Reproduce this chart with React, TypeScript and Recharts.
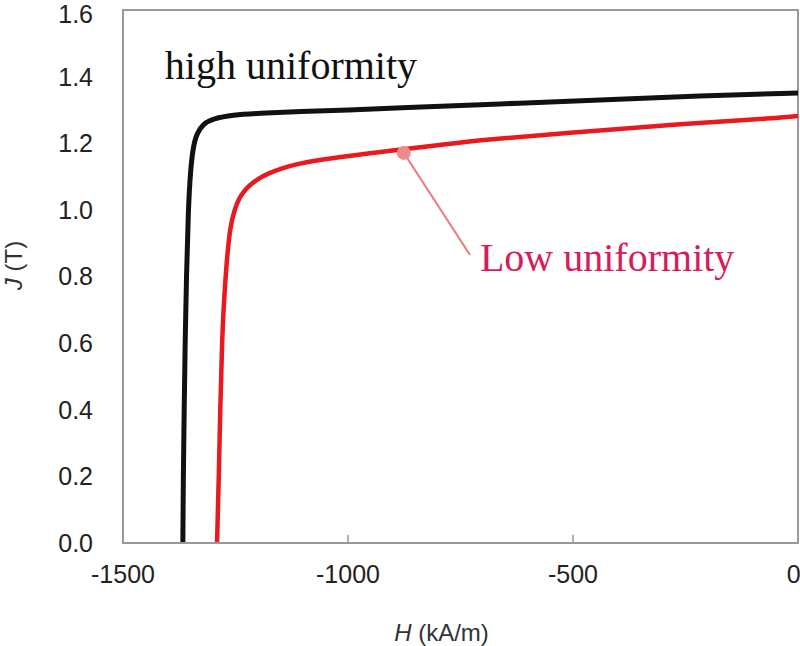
import { LineChart, Line, XAxis, YAxis, ReferenceArea, ReferenceLine, ReferenceDot } from 'recharts';

// H (kA/m) vs J (T)
const highH = [-1367, -1366, -1364, -1362, -1359, -1355, -1350, -1344, -1336, -1322, -1300, -1256, -1200, -1107, -1000, -884, -662, -440, -218, 0];
const highJ = [0, 0.2, 0.4, 0.6, 0.8, 1.0, 1.12, 1.19, 1.23, 1.258, 1.274, 1.285, 1.29, 1.295, 1.3, 1.306, 1.318, 1.33, 1.342, 1.351];

const lowH = [-1291, -1287, -1284, -1280, -1276, -1270, -1262, -1252, -1244, -1232, -1218, -1200, -1180, -1150, -1107, -1050, -929, -800, -707, -484, -262, -40, 0];
const lowJ = [0, 0.2, 0.4, 0.6, 0.72, 0.84, 0.95, 1.0, 1.03, 1.055, 1.075, 1.093, 1.108, 1.124, 1.14, 1.153, 1.174, 1.194, 1.21, 1.234, 1.258, 1.276, 1.282];

const xTicks = [-1500, -1000, -500, 0];
const yTicks = [0, 0.2, 0.4, 0.6, 0.8, 1.0, 1.2, 1.4, 1.6];

const highData = highH.map((h, i) => ({ h, j: highJ[i] }));
const lowData = lowH.map((h, i) => ({ h, j: lowJ[i] }));

const SERIF = '"Liberation Serif", "DejaVu Serif", serif';
const SANS = '"Liberation Sans", Arial, sans-serif';

const XLabel = (props: any) => {
  const { x, y, width, height } = props.viewBox;
  return (
    <text x={x + width / 2 - 19} y={y + height - 14} textAnchor="middle" dominantBaseline="central" fill="#333" fontSize={24} fontFamily={SANS}>
      <tspan fontStyle="italic">H</tspan> (kA/m)
    </text>
  );
};

const YLabel = (props: any) => {
  const { y, height } = props.viewBox;
  const cx = 13;
  const cy = y + height / 2 - 11;
  return (
    <text x={cx} y={cy} transform={`rotate(-90 ${cx} ${cy})`} textAnchor="middle" dominantBaseline="central" fill="#333" fontSize={24} fontFamily={SANS}>
      <tspan fontStyle="italic">J</tspan> (T)
    </text>
  );
};

export default function App() {
  return (
    <div style={{ position: 'absolute', left: 0, top: 0, width: 800, height: 646, background: '#fff' }}>
      <LineChart width={800} height={646} margin={{ top: 10, right: 2, bottom: 0, left: 0 }}>
        <XAxis
          dataKey="h"
          type="number"
          domain={[-1500, 0]}
          ticks={xTicks}
          allowDataOverflow
          axisLine={{ stroke: '#999', strokeWidth: 2 }}
          tickLine={false}
          tickSize={0}
          tickMargin={22}
          height={103}
          tick={{ fill: '#222', fontSize: 25, fontFamily: SANS }}
          label={{ content: XLabel }}
        />
        <YAxis
          dataKey="j"
          type="number"
          domain={[0, 1.6]}
          ticks={yTicks}
          allowDataOverflow
          width={123}
          axisLine={{ stroke: '#999', strokeWidth: 2 }}
          tickLine={false}
          tickSize={0}
          tickMargin={30}
          tickFormatter={(v: number) => v.toFixed(1)}
          tick={{ fill: '#222', fontSize: 25, fontFamily: SANS }}
          label={{ content: YLabel }}
        />
        <ReferenceArea x1={-1500} x2={0} y1={0} y2={1.6} fill="none" stroke="#999" strokeWidth={2} ifOverflow="visible" />
        <ReferenceLine segment={[{ x: -1000, y: 0 }, { x: -1000, y: 0.025 }]} stroke="#999" strokeWidth={1.5} />
        <ReferenceLine segment={[{ x: -500, y: 0 }, { x: -500, y: 0.025 }]} stroke="#999" strokeWidth={1.5} />
        <Line
          data={highData}
          dataKey="j"
          type="basis"
          stroke="#111"
          strokeWidth={5}
          dot={false}
          isAnimationActive={false}
        />
        <Line
          data={lowData}
          dataKey="j"
          type="basis"
          stroke="#e8191f"
          strokeWidth={4.5}
          dot={false}
          isAnimationActive={false}
        />
        <ReferenceLine segment={[{ x: -876, y: 1.171 }, { x: -729, y: 0.865 }]} stroke="#e88080" strokeWidth={2} />
        <ReferenceDot x={-876} y={1.171} r={7} fill="#ee8a8a" stroke="none" />
        <ReferenceDot
          x={-729}
          y={0.859}
          r={0}
          stroke="none"
          label={{ value: 'Low uniformity', position: 'right', offset: 10, fill: '#d81b5a', fontSize: 40, fontFamily: SERIF }}
        />
        <ReferenceDot
          x={-1407}
          y={1.435}
          r={0}
          stroke="none"
          label={{ value: 'high uniformity', position: 'right', offset: 0, fill: '#111', fontSize: 40, fontFamily: SERIF }}
        />
      </LineChart>
    </div>
  );
}
